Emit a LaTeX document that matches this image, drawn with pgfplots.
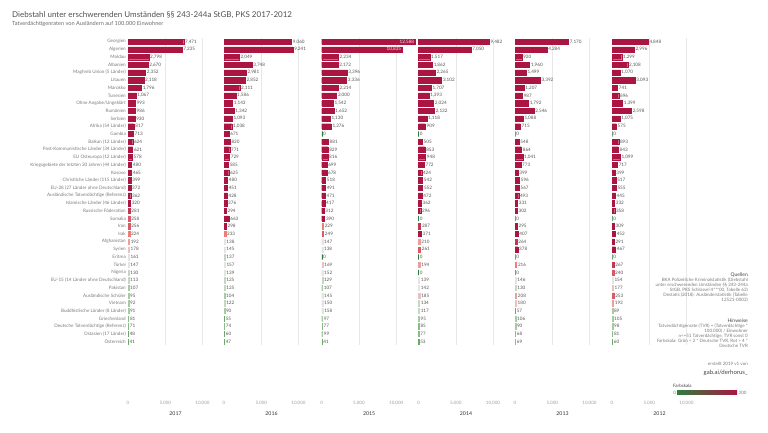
\documentclass[border=0pt]{standalone}
\usepackage{fontspec}
\setmainfont{Lato}
\usepackage{pgfplots}
\pgfplotsset{compat=1.18}
\usepackage{pgfplotstable}

% Tableau-artige Farbskala (0 gruen ... 300 rot)
\definecolor{G0}{HTML}{2E7D3E}
\definecolor{G1}{HTML}{86BE82}
\definecolor{MM}{HTML}{E4E4E4}
\definecolor{R1}{HTML}{EE7C78}
\definecolor{R0}{HTML}{AA1641}
\colorlet{bin0}{G0}
\colorlet{bin1}{G0!67!G1}
\colorlet{bin2}{G0!33!G1}
\colorlet{bin3}{G1}
\colorlet{bin4}{G1!67!MM}
\colorlet{bin5}{G1!33!MM}
\colorlet{bin6}{MM}
\colorlet{bin7}{MM!67!R1}
\colorlet{bin8}{MM!33!R1}
\colorlet{bin9}{R1}
\colorlet{bin10}{R1!67!R0}
\colorlet{bin11}{R1!33!R0}
\colorlet{bin12}{R0}
\definecolor{titlec}{HTML}{505050}
\definecolor{subc}{HTML}{6A6A6A}
\definecolor{labc}{HTML}{7A7A7A}
\definecolor{valc}{HTML}{555555}
\definecolor{tickc}{HTML}{A0A0A0}
\definecolor{yearc}{HTML}{333333}
\definecolor{gridc}{HTML}{E8E8E8}
\definecolor{headc}{HTML}{444444}

% TVR je Jahr, Zeilen wie im Original sortiert
\pgfplotstableread{
row y2017 y2016 y2015 y2014 y2013 y2012
1  7471 9060 12588 9482 7170 4848
2  7235 9241 10835 7050 4284 2996
3  2798 2049 2234 1517 920 1299
4  2670 3748 2172 1862 1960 2108
5  2352 2981 3396 2265 1499 1070
6  2118 2852 3336 3102 3392 3093
7  1796 2111 2214 1707 1207 741
8  1067 1586 2000 1393 987 896
9  993 1143 1542 2024 1792 1399
10 986 1342 1652 2132 2546 2598
11 930 1093 1130 1118 1088 1075
12 817 1038 1276 909 715 575
13 713 671 0 0 0 0
14 624 820 881 505 548 893
15 621 771 829 853 864 843
16 578 729 816 948 1041 1099
17 480 585 699 772 773 717
18 465 625 678 424 399 399
19 399 480 518 542 596 517
20 372 451 491 552 567 555
21 362 428 471 472 493 445
22 320 376 417 362 331 332
23 281 294 312 296 302 358
24 258 663 390 0 0 0
25 256 298 229 287 295 309
26 224 233 249 371 407 452
27 192 138 147 210 264 291
28 178 145 138 261 378 467
29 161 137 0 0 0 0
30 147 157 169 194 216 267
31 130 139 152 0 0 240
32 113 125 129 139 146 154
33 107 125 107 142 130 177
34 95 104 145 185 208 253
35 92 122 150 134 180 193
36 91 90 158 117 57 89
37 81 55 97 95 106 105
38 71 74 77 85 90 98
39 48 60 99 77 68 81
40 41 47 41 53 69 60
}\data

\pgfplotsset{
  panelstyle/.style={
    scale only axis, width=95pt, height=359.1pt, anchor=north west,
    xmin=0, xmax=12750, ymin=0.5, ymax=47.2, y dir=reverse,
    axis line style={draw=none}, major tick length=0pt, tick style={draw=none},
    scaled x ticks=false,
    xtick={0,5000,10000}, xticklabels={0,5.000,10.000},
    x tick label style={font=\fontsize{4.5}{5}\selectfont, text=tickc, anchor=north, inner sep=0pt, yshift=-4.5pt},
    ytick=\empty, clip=false,
  },
  vlabels/.style={
    draw=none, mark=none, point meta=x,
    nodes near coords={\pgfmathprintnumber[fixed,precision=0,1000 sep={,},assume math mode=true]{\pgfplotspointmeta}},
    nodes near coords style={font=\fontsize{4.6}{5}\selectfont, text=valc, anchor=west, inner sep=1.2pt},
  },
}

\newcommand{\panel}[4]{%
\begin{axis}[panelstyle, at={(#1pt,-37.86pt)}, #3]
\draw[gridc, line width=0.4pt] (axis cs:5000,0.5) -- (axis cs:5000,40.5);
\draw[gridc, line width=0.4pt] (axis cs:10000,0.5) -- (axis cs:10000,40.5);
\pgfplotsinvokeforeach{0,...,12}{%
  \addplot[xbar, bar shift=0pt, bar width=5.3pt, fill=bin##1, draw=bin##1, line width=0.3pt,
    x filter/.expression={round(12*min(1,x/300))==##1 ? x : nan}]
    table[x=#2, y=row]{\data};
}
\addplot[vlabels, x filter/.expression={x>10000 ? nan : x}] table[x=#2, y=row]{\data};
#4
\end{axis}}

\begin{document}
\begin{tikzpicture}
\path[use as bounding box] (0,0) rectangle (768pt,-432pt);

\node[anchor=base west, font=\fontsize{8}{9.6}\selectfont, text=titlec, inner sep=0pt]
  at (12pt,-17pt) {Diebstahl unter erschwerenden Umständen §§ 243-244a StGB, PKS 2017-2012};
\node[anchor=base west, font=\fontsize{5.6}{6.5}\selectfont, text=subc, inner sep=0pt]
  at (12pt,-25.5pt) {Tatverdächtigenraten von Ausländern auf 100.000 Einwohner};

\panel{128}{y2017}{ytick={1,...,40},
  yticklabels={Georgien,Algerien,Moldau,Albanien,Maghreb Union (5 Länder),Litauen,Marokko,Tunesien,
    Ohne Angabe/Ungeklärt,Rumänien,Serbien,Afrika (54 Länder),Gambia,Balkan (12 Länder),
    Post-Kommunistische Länder (34 Länder),EU Osteuropa (12 Länder),
    Kriegsgebiete der letzten 20 Jahren (44 Länder),Kosovo,Christliche Länder (115 Länder),
    EU-28 (27 Länder ohne Deutschland),Ausländische Tatverdächtige (Referenz),
    Islamische Länder (46 Länder),Russische Föderation,Somalia,Iran,Irak,Afghanistan,Syrien,
    Eritrea,Türkei,Nigeria,EU-15 (14 Länder ohne Deutschland),Pakistan,Ausländische Schüler,
    Vietnam,Buddhistische Länder (8 Länder),Griechenland,Deutsche Tatverdächtige (Referenz),
    Ostasien (17 Länder),Österreich},
  y tick label style={font=\fontsize{4.6}{5}\selectfont, text=labc, inner sep=0pt, xshift=-2pt}}{}
\panel{224}{y2016}{}{}
\panel{321.7}{y2015}{}{%
  \addplot[vlabels, x filter/.expression={x>10000 ? x : nan},
    nodes near coords style={anchor=east, text=white!90!R0}] table[x=y2015, y=row]{\data};}
\panel{418.5}{y2014}{}{}
\panel{515}{y2013}{}{}
\panel{612}{y2012}{}{}

\foreach \xx/\yy in {175.5/2017, 271.5/2016, 369.2/2015, 466/2014, 562.5/2013, 659.5/2012}
  \node[font=\fontsize{5.2}{6}\selectfont, text=yearc] at (\xx pt,-414pt) {\yy};

% Quellen und Hinweise, zeilenweise rechtsbuendig
\node[anchor=base east, font=\fontsize{5}{6}\selectfont, text=headc, inner sep=0pt]
  at (748pt,-276.8pt) {Quellen};
\foreach \yy/\tt in {281.9/{BKA Polizeiliche Kriminalstatistik (Diebstahl},
    286.9/{unter erschwerenden Umständen §§ 243-244a},
    291.9/{StGB, PKS Schlüssel 4***00, Tabelle 62)},
    296.9/{Destatis (2018): Ausländerstatistik (Tabelle},
    301.9/{12521-0002)}}
  \node[anchor=base east, font=\fontsize{4.5}{5}\selectfont, text=labc, inner sep=0pt]
    at (748pt,-\yy pt) {\tt};
\node[anchor=base east, font=\fontsize{5}{6}\selectfont, text=headc, inner sep=0pt]
  at (748pt,-322pt) {Hinweise};
\foreach \yy/\tt in {327.3/{Tatverdächtigenrate (TVR) = (Tatverdächtige *},
    332.4/{100.000) / Einwohner},
    337.5/{n<=51 Tatverdächtige, TVR sonst 0},
    342.6/{Farbskala: Grün < 2 * Deutsche TVR, Rot > 4 *},
    347.7/{Deutsche TVR}}
  \node[anchor=base east, font=\fontsize{4.5}{5}\selectfont, text=labc, inner sep=0pt]
    at (748pt,-\yy pt) {\tt};
\node[anchor=base east, font=\fontsize{4.5}{5}\selectfont, text=labc, inner sep=0pt]
  at (748pt,-365.5pt) {erstellt 2019 v1 von};
\node[anchor=base east, font=\fontsize{6}{7}\selectfont, text=headc, inner sep=0pt]
  at (748pt,-374pt) {gab.ai/derhorus\_};

% Farbskala
\node[anchor=base west, font=\fontsize{4.5}{5}\selectfont, text=headc, inner sep=0pt]
  at (673pt,-387.5pt) {Farbskala};
\shade[left color=G0, middle color=MM, right color=R0] (677pt,-390.5pt) rectangle (737pt,-394.5pt);
\node[anchor=east, font=\fontsize{4.5}{5}\selectfont, text=labc, inner sep=0.8pt] at (677pt,-392.5pt) {0};
\node[anchor=west, font=\fontsize{4.5}{5}\selectfont, text=labc, inner sep=1.5pt] at (737pt,-392.5pt) {300};
\end{tikzpicture}
\end{document}
